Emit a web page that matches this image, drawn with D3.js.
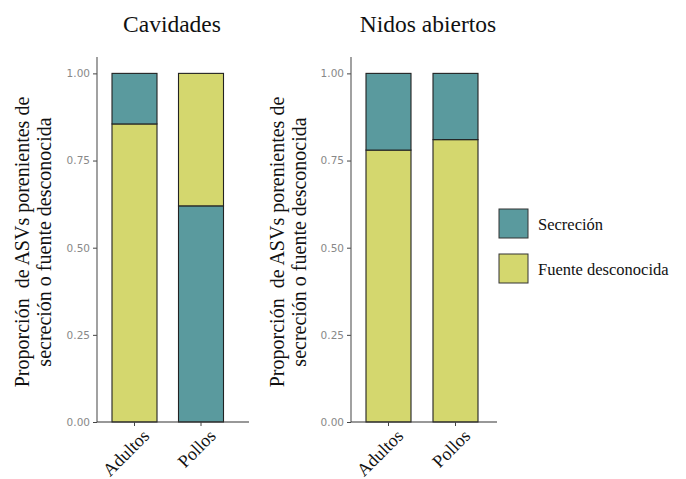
<!DOCTYPE html>
<html>
<head>
<meta charset="utf-8">
<script src="https://cdn.jsdelivr.net/npm/d3@7"></script>
<style>
  body { margin: 0; background: #fff; }
</style>
</head>
<body>
<div id="chart"></div>
<script>
var W = 686, H = 479;

var panels = ["Cavidades", "Nidos abiertos"];
var groups = ["Adultos", "Pollos"];
var sources = ["Secreción", "Fuente desconocida"];
var colors = {"Secreción": "#5a9a9e", "Fuente desconocida": "#d4d76e"};

// proportion of "Secreción" per panel, per group
var secrecion = [[0.145, 0.62], [0.22, 0.19]];
var desconocida = [[0.855, 0.38], [0.78, 0.81]];
// which source sits at the bottom of each stacked bar
var bottomSource = [["Fuente desconocida", "Secreción"], ["Fuente desconocida", "Fuente desconocida"]];

var yTicks = [0, 0.25, 0.5, 0.75, 1];

var SERIF = "Liberation Serif";

var svg = d3.select("#chart").append("svg")
    .attr("width", W)
    .attr("height", H);

var y = d3.scaleLinear().domain([0, 1.047]).range([422, 57]);

var panelLayout = [
  {axisX: 97, xEnd: 249, c1: 134.5, c2: 201, titleX: 172, labX: 22},
  {axisX: 351, xEnd: 497, c1: 388.5, c2: 455.5, titleX: 428, labX: 277}
];

panels.forEach(function(name, p) {
  var L = panelLayout[p];
  var x = d3.scaleOrdinal().domain(groups).range([L.c1, L.c2]);
  var bw = 45;
  var g = svg.append("g");

  // stacked bars
  groups.forEach(function(grp, i) {
    var vals = {"Secreción": secrecion[p][i], "Fuente desconocida": desconocida[p][i]};
    var bot = bottomSource[p][i];
    var top = bot === "Secreción" ? "Fuente desconocida" : "Secreción";
    var segs = [
      {key: bot, y0: 0, y1: vals[bot]},
      {key: top, y0: vals[bot], y1: vals[bot] + vals[top]}
    ];
    g.selectAll(null)
      .data(segs)
      .enter().append("rect")
      .attr("x", x(grp) - bw / 2)
      .attr("width", bw)
      .attr("y", function(d) { return y(d.y1); })
      .attr("height", function(d) { return y(d.y0) - y(d.y1); })
      .style("fill", function(d) { return colors[d.key]; })
      .style("stroke", "#222")
      .style("stroke-width", 1.1);
  });

  // y axis
  var yAxis = d3.axisLeft(y).tickValues(yTicks)
      .tickFormat(d3.format(".2f")).tickSize(4).tickPadding(3);
  var ya = g.append("g").attr("transform", "translate(" + L.axisX + ",0)").call(yAxis);
  ya.select(".domain").remove();
  ya.attr("font-family", "DejaVu Sans").attr("font-size", 10.5);
  ya.selectAll(".tick line").style("stroke", "#444");
  ya.selectAll("text").style("fill", "#888");
  g.append("line")
    .attr("x1", L.axisX).attr("x2", L.axisX)
    .attr("y1", 57).attr("y2", 422)
    .style("stroke", "#555").style("stroke-width", 1.1);

  // x axis
  g.append("line")
    .attr("x1", L.axisX).attr("x2", L.xEnd)
    .attr("y1", 422).attr("y2", 422)
    .style("stroke", "#333").style("stroke-width", 1.1);
  groups.forEach(function(grp) {
    g.append("line")
      .attr("x1", x(grp)).attr("x2", x(grp))
      .attr("y1", 422).attr("y2", 426)
      .style("stroke", "#444");
    g.append("text")
      .attr("font-family", SERIF)
      .attr("font-size", 18)
      .attr("transform", "translate(" + (x(grp) + 7) + ",428) rotate(-45)")
      .attr("text-anchor", "end")
      .attr("dy", "0.7em")
      .style("fill", "#111")
      .text(grp);
  });

  // title
  g.append("text")
    .attr("font-family", SERIF)
    .attr("font-size", 23.5)
    .attr("x", L.titleX).attr("y", 32)
    .attr("text-anchor", "middle")
    .style("fill", "#111")
    .text(name);

  // y axis title
  var yt = g.append("text")
    .attr("font-family", SERIF)
    .attr("font-size", 20)
    .attr("transform", "translate(" + L.labX + ",242) rotate(-90)")
    .attr("text-anchor", "middle")
    .style("fill", "#111")
    .style("white-space", "pre");
  yt.append("tspan").attr("x", 0).attr("dy", "0.35em").text("Proporción  de ASVs porenientes de");
  yt.append("tspan").attr("x", 0).attr("dy", "1.1em").text("secreción o fuente desconocida");
});

// legend
var legend = svg.append("g");
sources.forEach(function(s, i) {
  legend.append("rect")
    .attr("x", 499).attr("y", 209 + i * 45)
    .attr("width", 29).attr("height", 29)
    .style("fill", colors[s])
    .style("stroke", "#333")
    .style("stroke-width", 1);
  legend.append("text")
    .attr("font-family", SERIF)
    .attr("font-size", 16.5)
    .attr("x", 538).attr("y", 224 + i * 45)
    .attr("dy", "0.35em")
    .style("fill", "#111")
    .text(s);
});
</script>
</body>
</html>
